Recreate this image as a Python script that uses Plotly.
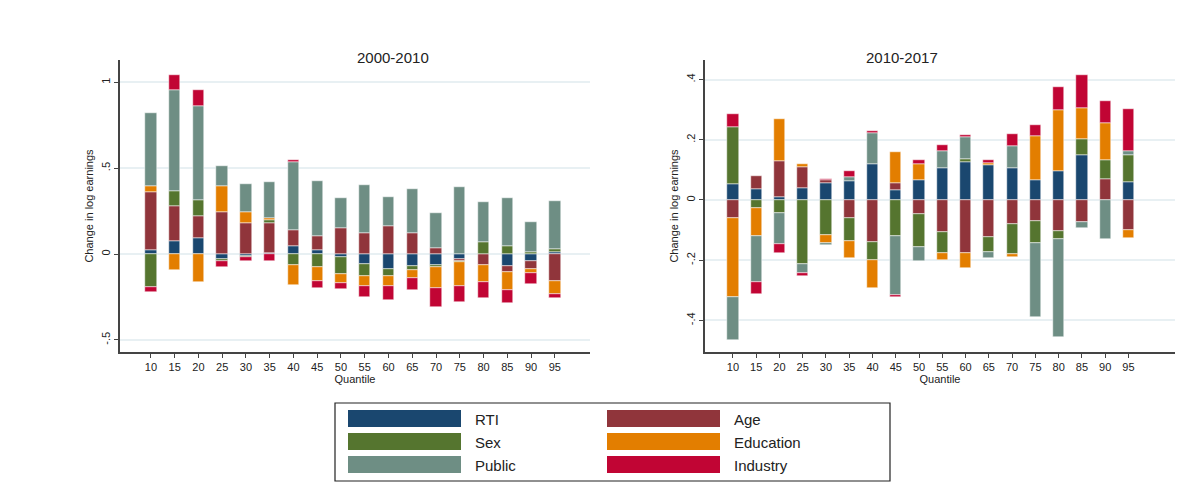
import plotly.graph_objects as go

quantiles = [10, 15, 20, 25, 30, 35, 40, 45, 50, 55, 60, 65, 70, 75, 80, 85, 90, 95]
series = ["RTI", "Age", "Sex", "Education", "Public", "Industry"]
colors = {"RTI": "#1a476f", "Age": "#90353b", "Sex": "#55752f",
          "Education": "#e37e00", "Public": "#6e8e84", "Industry": "#c10534"}

# 2000-2010
rti_a = [0.021, 0.076, 0.091, -0.027, -0.010, 0.005, 0.050, 0.021, -0.017, -0.056, -0.085, -0.072, -0.064, -0.031, 0.0, -0.072, -0.043, 0.012]
age_a = [0.340, 0.205, 0.132, 0.244, 0.182, 0.178, 0.091, 0.085, 0.153, 0.120, 0.163, 0.120, 0.037, -0.008, -0.064, -0.035, -0.041, -0.155]
sex_a = [-0.190, 0.089, 0.093, -0.016, -0.004, 0.014, -0.064, -0.074, -0.100, -0.070, -0.041, -0.019, -0.014, -0.006, 0.070, 0.048, 0.010, 0.016]
edu_a = [0.033, -0.091, -0.161, 0.155, 0.062, 0.015, -0.118, -0.085, -0.050, -0.058, -0.058, -0.050, -0.120, -0.141, -0.099, -0.100, -0.025, -0.079]
pub_a = [0.430, 0.585, 0.548, 0.114, 0.163, 0.209, 0.393, 0.318, 0.172, 0.285, 0.167, 0.258, 0.200, 0.390, 0.233, 0.281, 0.178, 0.279]
ind_a = [-0.033, 0.087, 0.091, -0.035, -0.025, -0.040, 0.014, -0.039, -0.035, -0.066, -0.085, -0.070, -0.110, -0.093, -0.091, -0.076, -0.066, -0.019]

# 2010-2017
rti_b = [0.054, 0.038, 0.009, 0.041, 0.057, 0.062, 0.118, 0.033, 0.067, 0.107, 0.126, 0.117, 0.107, 0.065, 0.097, 0.148, 0.0, 0.060]
age_b = [-0.060, 0.042, 0.120, 0.069, 0.008, -0.059, -0.140, 0.025, -0.045, -0.108, -0.176, -0.124, -0.080, -0.069, -0.102, -0.072, 0.070, -0.100]
sex_b = [0.188, -0.027, -0.043, -0.211, -0.115, -0.078, -0.060, -0.119, -0.110, -0.067, 0.010, -0.048, -0.100, -0.075, -0.027, 0.053, 0.063, 0.090]
edu_b = [-0.262, -0.093, 0.141, 0.011, -0.028, -0.057, -0.091, 0.103, 0.053, -0.024, -0.051, 0.006, -0.011, 0.148, 0.202, 0.104, 0.122, -0.025]
pub_b = [-0.144, -0.151, -0.103, -0.033, -0.008, 0.014, 0.105, -0.198, -0.048, 0.055, 0.073, -0.020, 0.072, -0.246, -0.326, -0.020, -0.130, 0.012]
ind_b = [0.042, -0.040, -0.030, -0.009, 0.006, 0.021, 0.007, -0.004, 0.013, 0.021, 0.008, 0.010, 0.041, 0.035, 0.077, 0.110, 0.075, 0.140]

panels = [
    ("x", "y", dict(zip(series, [rti_a, age_a, sex_a, edu_a, pub_a, ind_a]))),
    ("x2", "y2", dict(zip(series, [rti_b, age_b, sex_b, edu_b, pub_b, ind_b]))),
]

fig = go.Figure()
for xa, ya, vals in panels:
    for s in series:
        fig.add_trace(go.Bar(x=quantiles, y=vals[s], name=s, xaxis=xa, yaxis=ya,
                             marker=dict(color=colors[s], line=dict(width=0.5, color="white")),
                             width=2.4, showlegend=False))

# page body adds an 8px margin, so positions are given in screen px minus 8
OFF = 8
W, H = 1200, 488

def px(xp, yp):
    return (xp - OFF) / W, 1 - (yp - OFF) / H

font = dict(family="Liberation Sans, Arial", color="#222", size=11)
ax_common = dict(showline=True, linecolor="#444", linewidth=1.5, ticks="outside",
                 ticklen=4, tickcolor="#444", tickfont=dict(size=11), zeroline=False)
xcommon = dict(ax_common, tickvals=quantiles, showgrid=False,
               title=dict(text="Quantile", font=dict(size=11), standoff=0))
ycommon = dict(ax_common, showgrid=True, gridcolor="#e8f0f3", gridwidth=1.5, tickangle=-90,
               title=dict(text="Change in log earnings", font=dict(size=11), standoff=4))

ybot, ytop = px(0, 352)[1], px(0, 60)[1]
fig.update_layout(
    barmode="relative", bargap=0,
    width=W, height=H, margin=dict(l=0, r=0, t=0, b=0),
    paper_bgcolor="white", plot_bgcolor="white", font=font,
    xaxis=dict(xcommon, domain=[px(120, 0)[0], px(590, 0)[0]], range=[3.5, 102.4], anchor="y"),
    yaxis=dict(ycommon, domain=[ybot, ytop], range=[-0.57, 1.13], anchor="x",
               tickvals=[-0.5, 0, 0.5, 1], ticktext=["-.5", "0", ".5", "1"]),
    xaxis2=dict(xcommon, domain=[px(705, 0)[0], px(1175, 0)[0]], range=[4, 105], anchor="y2"),
    yaxis2=dict(ycommon, domain=[ybot, ytop], range=[-0.505, 0.465], anchor="x2",
                tickvals=[-0.4, -0.2, 0, 0.2, 0.4], ticktext=["-.4", "-.2", "0", ".2", ".4"]),
)

for txt, xc in [("2000-2010", 355), ("2010-2017", 940)]:
    ax, ay = px(xc, 47)
    fig.add_annotation(text=txt, x=ax, y=ay, xref="paper", yref="paper",
                       showarrow=False, font=dict(size=15, color="#222"))

# legend box
x0, y0 = px(335, 403)
x1, y1 = px(890, 481)
fig.add_shape(type="rect", xref="paper", yref="paper", x0=x0, y0=y0, x1=x1, y1=y1,
              line=dict(color="#222", width=1.2), fillcolor="white")
legend_pos = [("RTI", 348, 410), ("Age", 607, 410), ("Sex", 348, 433),
              ("Education", 607, 433), ("Public", 348, 456), ("Industry", 607, 456)]
for name, lx, ly in legend_pos:
    a0, b0 = px(lx, ly)
    a1, b1 = px(lx + 113, ly + 17)
    fig.add_shape(type="rect", xref="paper", yref="paper", x0=a0, y0=b0, x1=a1, y1=b1,
                  line=dict(width=0), fillcolor=colors[name])
    tx, ty = px(lx + 125, ly + 9)
    fig.add_annotation(text=name, x=tx, y=ty, xref="paper", yref="paper", showarrow=False,
                       xanchor="left", yanchor="middle", font=dict(size=15, color="#222"))

fig.write_html("out.html")
